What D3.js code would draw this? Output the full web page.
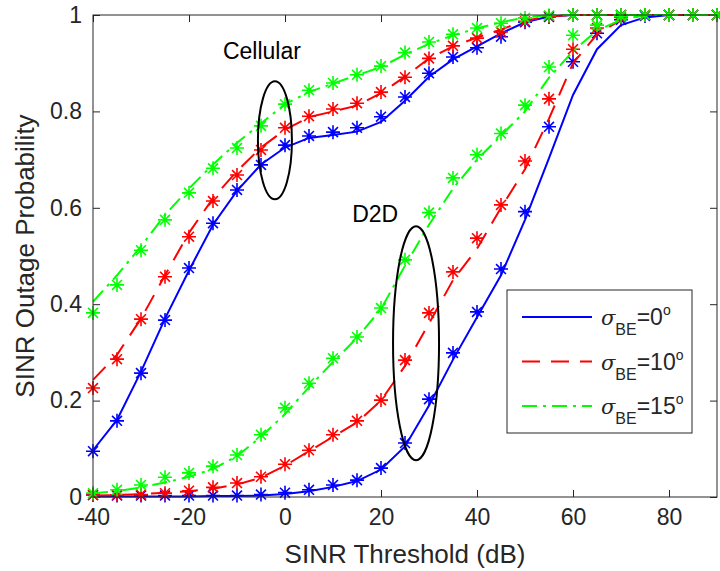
<!DOCTYPE html>
<html>
<head>
<meta charset="utf-8">
<script src="https://cdn.jsdelivr.net/npm/d3@7"></script>
<style>
  body { margin: 0; background: #fff; }
  text { font-family: "Liberation Sans", Arial, Helvetica, sans-serif; fill: #262626; }
</style>
</head>
<body>
<script>
//dimensions declarations
var width = 720;
var height = 571;
var margin = {top: 15, right: 3, bottom: 74, left: 93};
var w = width - margin.left - margin.right;
var h = height - margin.top - margin.bottom;

//data: SINR threshold (dB), one point every 5 dB
var thresholds = [-40,-35,-30,-25,-20,-15,-10,-5,0,5,10,15,20,25,30,35,40,45,50,55,60,65,70,75,80,85,90];
var xTicks = [-40,-20,0,20,40,60,80];
var yTicks = [0,0.2,0.4,0.6,0.8,1];
var legendLabels = ["0", "10", "15"];

//cellular users: analysis (lines) and simulation (markers)
var cellLine0  = [0.097,0.160,0.260,0.370,0.470,0.565,0.635,0.690,0.725,0.745,0.751,0.758,0.778,0.822,0.872,0.908,0.935,0.962,0.985,0.997,1,1,1,1,1,1,1];
var cellSim0   = [0.095,0.158,0.257,0.367,0.475,0.568,0.637,0.689,0.730,0.749,0.757,0.766,0.789,0.830,0.879,0.913,0.932,0.955,0.985,0.996,1,1,1,1,1,1,1];
var cellLine10 = [0.243,0.295,0.370,0.460,0.548,0.620,0.676,0.725,0.762,0.788,0.800,0.812,0.838,0.872,0.910,0.935,0.953,0.970,0.988,0.997,1,1,1,1,1,1,1];
var cellSim10  = [0.226,0.286,0.369,0.457,0.540,0.614,0.668,0.720,0.766,0.790,0.805,0.817,0.840,0.871,0.910,0.936,0.952,0.965,0.987,0.998,1,1,1,1,1,1,1];
var cellLine15 = [0.405,0.460,0.520,0.585,0.640,0.690,0.735,0.775,0.815,0.840,0.858,0.875,0.892,0.918,0.940,0.958,0.972,0.985,0.995,1,1,1,1,1,1,1,1];
var cellSim15  = [0.382,0.440,0.512,0.575,0.631,0.682,0.724,0.770,0.815,0.844,0.859,0.876,0.894,0.922,0.944,0.960,0.973,0.983,0.994,0.999,1,1,1,1,1,1,1];

//D2D users
var d2dLine0  = [0.001,0.001,0.001,0.001,0.001,0.002,0.002,0.003,0.006,0.012,0.021,0.033,0.057,0.105,0.190,0.285,0.373,0.460,0.575,0.703,0.834,0.929,0.979,0.995,1,1,1];
var d2dSim0   = [0.004,0.003,0.003,0.003,0.003,0.003,0.003,0.005,0.009,0.015,0.025,0.035,0.060,0.112,0.203,0.299,0.384,0.473,0.592,0.768,0.903,0.962,0.990,0.998,1,1,1];
var d2dLine10 = [0.003,0.004,0.006,0.009,0.012,0.017,0.026,0.040,0.065,0.095,0.125,0.155,0.200,0.272,0.360,0.450,0.515,0.600,0.680,0.785,0.900,0.960,0.990,1,1,1,1];
var d2dSim10  = [0.004,0.004,0.005,0.008,0.013,0.020,0.029,0.042,0.068,0.097,0.129,0.158,0.201,0.284,0.382,0.467,0.537,0.606,0.697,0.826,0.929,0.973,0.995,1,1,1,1];
var d2dLine15 = [0.008,0.012,0.020,0.030,0.042,0.058,0.085,0.125,0.172,0.228,0.280,0.330,0.390,0.480,0.565,0.640,0.700,0.750,0.800,0.870,0.925,0.968,0.990,1,1,1,1];
var d2dSim15  = [0.008,0.015,0.025,0.041,0.050,0.064,0.087,0.129,0.185,0.236,0.288,0.332,0.392,0.492,0.590,0.662,0.710,0.754,0.813,0.892,0.958,0.979,0.997,1,1,1,1];

var colors = ["#0000ff", "#ff0000", "#00ff00"];
var dashes = [null, "18,11", "15,6,3,6"];

var series = [
  {line: cellLine0,  sim: cellSim0,  k: 0},
  {line: cellLine10, sim: cellSim10, k: 1},
  {line: cellLine15, sim: cellSim15, k: 2},
  {line: d2dLine0,   sim: d2dSim0,   k: 0},
  {line: d2dLine10,  sim: d2dSim10,  k: 1},
  {line: d2dLine15,  sim: d2dSim15,  k: 2}
];

var svg = d3.select("body").append("svg")
    .attr("width", width)
    .attr("height", height);

var g = svg.append("g").attr("transform", "translate(" + margin.left + "," + margin.top + ")");

var x = d3.scaleLinear().domain([-40, 90]).range([0, w]);
var y = d3.scaleLinear().domain([0, 1]).range([h, 0]);

//axes box and ticks pointing inward
g.append("rect")
    .attr("width", w).attr("height", h)
    .attr("fill", "#fff");

function styleAxis(sel) {
  sel.select(".domain").remove();
  sel.selectAll(".tick line").attr("stroke", "#262626");
  sel.selectAll(".tick text")
      .attr("fill", "#262626")
      .style("font-size", "23px")
      .style("font-family", "'Liberation Sans', Arial, sans-serif");
}

g.append("g")
    .attr("transform", "translate(0," + h + ")")
    .call(d3.axisBottom(x).tickValues(xTicks).tickSizeInner(-7).tickSizeOuter(0).tickPadding(12).tickFormat(d3.format("d")))
    .call(styleAxis);
g.append("g")
    .call(d3.axisTop(x).tickValues(xTicks).tickSizeInner(-7).tickSizeOuter(0).tickFormat(""))
    .call(styleAxis);
g.append("g")
    .call(d3.axisLeft(y).tickValues(yTicks).tickSizeInner(-7).tickSizeOuter(0).tickPadding(11).tickFormat(function(d) { return d3.format("")(+d.toFixed(1)); }))
    .call(styleAxis);
g.append("g")
    .attr("transform", "translate(" + w + ",0)")
    .call(d3.axisRight(y).tickValues(yTicks).tickSizeInner(-7).tickSizeOuter(0).tickFormat(""))
    .call(styleAxis);

//plain hyphen instead of unicode minus
g.selectAll(".tick text").text(function() { return d3.select(this).text().replace("\u2212", "-"); });

var path = d3.line()
    .x(function(d, i) { return x(thresholds[i]); })
    .y(function(d) { return y(d); });

//asterisk marker
var r = 7, a = r * 0.7071;
var star = "M" + (-r) + ",0H" + r + "M0," + (-r) + "V" + r +
           "M" + (-a) + "," + (-a) + "L" + a + "," + a +
           "M" + (-a) + "," + a + "L" + a + "," + (-a);

series.forEach(function(s) {
  g.append("path")
      .attr("d", path(s.line))
      .attr("fill", "none")
      .attr("stroke", colors[s.k])
      .attr("stroke-width", 2)
      .attr("stroke-dasharray", dashes[s.k]);

  g.append("g").selectAll("path")
      .data(s.sim)
      .enter().append("path")
      .attr("transform", function(d, i) { return "translate(" + x(thresholds[i]) + "," + y(d) + ")"; })
      .attr("d", star)
      .attr("fill", "none")
      .attr("stroke", colors[s.k])
      .attr("stroke-width", 1.6);
});

//axes frame on top
g.append("rect")
    .attr("width", w).attr("height", h)
    .attr("fill", "none")
    .attr("stroke", "#262626")
    .attr("stroke-width", 1);

//annotations
g.append("ellipse")
    .attr("cx", x(-2.1)).attr("cy", y(0.74))
    .attr("rx", 17).attr("ry", 59)
    .attr("fill", "none").attr("stroke", "#000").attr("stroke-width", 2);
g.append("text")
    .attr("x", x(-4.8)).attr("y", y(0.909))
    .attr("text-anchor", "middle")
    .style("font-size", "23px").style("fill", "#000")
    .text("Cellular");

g.append("ellipse")
    .attr("cx", x(27.3)).attr("cy", y(0.319))
    .attr("rx", 23).attr("ry", 117)
    .attr("fill", "none").attr("stroke", "#000").attr("stroke-width", 2);
g.append("text")
    .attr("x", x(18.8)).attr("y", y(0.57))
    .attr("text-anchor", "middle")
    .style("font-size", "23px").style("fill", "#000")
    .text("D2D");

//legend
var legend = svg.append("g").attr("transform", "translate(507,290)");
legend.append("rect")
    .attr("width", 185).attr("height", 143)
    .attr("fill", "#fff").attr("stroke", "#262626").attr("stroke-width", 1);

legendLabels.forEach(function(lab, i) {
  var ly = 27 + i * 44.5;
  legend.append("line")
      .attr("x1", 15).attr("x2", 85)
      .attr("y1", ly).attr("y2", ly)
      .attr("stroke", colors[i])
      .attr("stroke-width", 2)
      .attr("stroke-dasharray", dashes[i]);
  var t = legend.append("text")
      .attr("x", 94).attr("y", ly + 8)
      .style("font-size", "23px");
  t.append("tspan").style("font-style", "italic").style("font-family", "'DejaVu Serif', serif").style("font-size", "21px").text("\u03c3");
  t.append("tspan").attr("dy", 10).style("font-size", "16px").text("BE");
  t.append("tspan").attr("dy", -10).text("=" + lab);
  t.append("tspan").attr("dy", -10).style("font-size", "14px").text("o");
});

//axis labels
svg.append("text")
    .attr("x", margin.left + w / 2).attr("y", 563)
    .attr("text-anchor", "middle")
    .style("font-size", "26px")
    .text("SINR Threshold (dB)");
svg.append("text")
    .attr("transform", "translate(34," + (margin.top + h / 2) + ") rotate(-90)")
    .attr("text-anchor", "middle")
    .style("font-size", "26px")
    .text("SINR Outage Probability");
</script>
</body>
</html>
